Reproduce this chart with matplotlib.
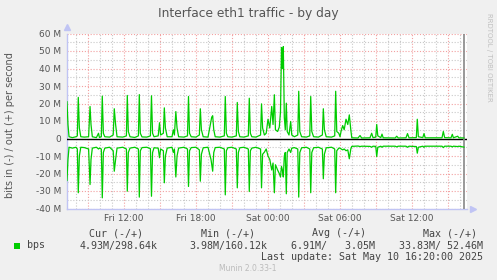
import matplotlib
matplotlib.use("Agg")
import matplotlib.pyplot as plt
from matplotlib.patches import Rectangle

# hours since Fri 00:00, and traffic in Mbit/s (in values are plotted negative)
hours = [
    7.25, 7.33, 7.42, 7.7, 8.0, 8.11, 8.19, 8.28, 8.4, 8.7,
    9.05, 9.17, 9.25, 9.36, 9.7, 9.875, 9.95, 10.11, 10.19, 10.28,
    10.4, 10.8, 11.1, 11.19, 11.3, 11.42, 11.9, 12.2, 12.275, 12.36,
    12.5, 12.9, 13.2, 13.275, 13.36, 13.5, 13.9, 14.2, 14.29, 14.38,
    14.5, 14.85, 14.96, 15.05, 15.28, 15.36, 15.45, 15.6, 16.0, 16.11,
    16.2, 16.32, 16.42, 16.55, 17.0, 17.29, 17.375, 17.46, 17.6, 18.0,
    18.28, 18.36, 18.45, 18.6, 19.0, 19.25, 19.31, 19.39, 19.48, 19.6,
    20.0, 20.36, 20.44, 20.53, 20.65, 21.0, 21.36, 21.44, 21.53, 21.65,
    22.0, 22.36, 22.44, 22.53, 22.65, 23.0, 23.38, 23.46, 23.55, 23.7,
    23.85, 24.0, 24.15, 24.31, 24.42, 24.53, 24.62, 24.8, 24.94, 25.04,
    25.125, 25.2, 25.275, 25.36, 25.44, 25.525, 25.6, 25.75, 25.89, 25.98,
    26.2, 26.48, 26.56, 26.65, 26.8, 27.2, 27.48, 27.56, 27.65, 27.8,
    28.2, 28.53, 28.61, 28.7, 28.85, 29.3, 29.56, 29.64, 29.73, 29.9,
    30.0, 30.1, 30.225, 30.35, 30.5, 30.65, 30.775, 30.9, 30.98, 31.5,
    31.67, 31.8, 32.5, 32.64, 32.75, 32.98, 33.06, 33.15, 33.4, 33.5,
    33.6, 34.6, 34.725, 34.85, 35.5, 35.625, 35.75, 36.36, 36.44, 36.53,
    36.9, 37.0, 37.1, 38.5, 38.61, 38.72, 39.25, 39.36, 39.45, 39.81,
    39.9, 40.33,
]
bps_out = [
    21, 8, 1, 0.5, 1, 1.5, 23.5, 6, 1, 0.8,
    1, 18.3, 8, 1, 0.5, 3, 0.6, 1, 24.2, 3,
    1, 0.8, 2, 17, 8, 1, 0.8, 1.5, 24.6, 4,
    1, 0.6, 1.5, 25.1, 3, 0.9, 0.8, 1.5, 24.4, 3,
    1, 1.5, 9, 2, 3, 17.5, 6, 1, 1, 5,
    2, 15.4, 6, 1, 0.8, 1.5, 24, 3, 1, 0.8,
    2, 17, 5, 1, 0.8, 10, 12.2, 13, 5, 1,
    0.8, 1.5, 24, 3, 1, 0.8, 1.5, 20.6, 4, 1,
    0.8, 1.5, 23, 3, 1, 0.8, 2, 19.8, 6, 2,
    3, 11, 6, 18.3, 8, 25, 5, 4, 6.5, 15,
    52, 40, 52.5, 12, 5, 20.2, 4, 2, 9.7, 2,
    1, 2, 27, 4, 1, 0.8, 1.5, 24, 4, 1,
    0.8, 2, 17, 5, 1, 0.8, 1.5, 27, 4, 3,
    1, 4.5, 7.4, 5, 11, 8, 13.5, 5, 0.4, 0.3,
    1.7, 0.3, 0.4, 3, 0.5, 0.8, 8, 1.5, 0.5, 2.5,
    0.4, 0.3, 1.3, 0.3, 0.4, 2.8, 0.4, 0.5, 11, 1,
    0.5, 2.8, 0.4, 0.4, 4, 0.5, 0.4, 2.4, 0.4, 1.3,
    0.4, 0.3,
]
bps_in = [
    24, 12, 5, 5.5, 5, 6, 31, 10, 5, 5.2,
    6, 26.3, 12, 5.5, 5, 6, 5.5, 6, 33.9, 8,
    5.5, 5, 7, 18.7, 12, 5.5, 5, 6, 30.1, 8,
    5.5, 5, 6, 33.5, 7, 5.2, 5, 5.8, 33, 8,
    5.3, 5.5, 11, 6, 7, 25.3, 10, 5.5, 5, 8,
    6, 22, 10, 5.5, 5, 6, 27.4, 7, 5.2, 5,
    6.5, 24.4, 9, 5.3, 5, 12, 15, 18.7, 8, 5.2,
    5, 6, 32.2, 7, 5.3, 5, 6, 28.2, 8, 5.3,
    5, 6, 30.3, 7, 5.5, 5, 6, 28.2, 9, 7.8,
    6, 10, 12, 18, 14, 31, 15, 18, 20, 22,
    16, 18, 22, 10, 8, 31.6, 8, 6, 8, 5.5,
    5.2, 6, 33.5, 8, 5.3, 5, 6, 31, 8, 5.3,
    5, 6, 23, 9, 5.3, 5, 6, 31, 7, 5.5,
    5.5, 6, 6.5, 6, 7, 6.5, 11.6, 6, 4.5, 4.3,
    4.6, 4.4, 4.5, 5, 4.4, 4.5, 10.3, 5, 4.4, 5,
    4.4, 4.4, 4.8, 4.4, 4.4, 5, 4.4, 4.6, 8.4, 5,
    4.4, 5, 4.4, 4.4, 5.2, 4.4, 4.4, 4.8, 4.4, 4.6,
    4.4, 4.93,
]

tick_hours = [12, 18, 24, 30, 36]
tick_labels = ["Fri 12:00", "Fri 18:00", "Sat 00:00", "Sat 06:00", "Sat 12:00"]
y_ticks = [-40, -30, -20, -10, 0, 10, 20, 30, 40, 50, 60]

legend_headers = ["Cur (-/+)", "Min (-/+)", "Avg (-/+)", "Max (-/+)"]
legend_values = ["4.93M/298.64k", "3.98M/160.12k", "6.91M/   3.05M", "33.83M/ 52.46M"]

W, H = 497, 280
BG = "#f0f0f0"
TXT = "#555555"
GREEN = "#00cc00"

fig = plt.figure(figsize=(W / 100, H / 100), dpi=100, facecolor=BG)
ax = fig.add_axes([67 / W, 1 - 208.5 / H, 400 / W, 175 / H])
ax.set_facecolor("white")

t0, t1 = 7.25, 7.25 + 400 / 12
ax.set_xlim(t0, t1)
ax.set_ylim(-40, 60)

# grid: gray dotted every hour / 5M, red dotted every 3h / 10M
for h in range(8, 41):
    col = "#f2a0a0" if h % 3 == 0 else "#c8c8c8"
    ax.axvline(h, color=col, lw=0.8, ls=(0, (1, 1.6)), zorder=1)
for v in range(-40, 61, 5):
    col = "#f2a0a0" if v % 10 == 0 else "#c8c8c8"
    ax.axhline(v, color=col, lw=0.8, ls=(0, (1, 1.6)), zorder=1)

ax.axhline(0, color="black", lw=1.0, zorder=3)
ax.axvline(40.36, color="#888888", lw=1.2, zorder=3)

ax.plot(hours, bps_out, color=GREEN, lw=0.9, zorder=4)
ax.plot(hours, [-v for v in bps_in], color=GREEN, lw=0.9, zorder=4)

ax.set_xticks(tick_hours)
ax.set_xticklabels(tick_labels)
ax.set_yticks(y_ticks)
ax.set_yticklabels(["0" if v == 0 else f"{v} M" for v in y_ticks])
ax.tick_params(length=0, labelsize=6.5, labelcolor=TXT, pad=4)

for s in ["top", "right"]:
    ax.spines[s].set_visible(False)
for s in ["left", "bottom"]:
    ax.spines[s].set_color("#c0c4f4")
    ax.spines[s].set_linewidth(1.0)
ax.plot([0], [1.04], marker="^", ms=4, color="#c0c4f4", transform=ax.transAxes, clip_on=False)
ax.plot([1.015], [0], marker=">", ms=4, color="#c0c4f4", transform=ax.transAxes, clip_on=False)


def px(x, y):
    return x / W, 1 - y / H


fig.text(*px(248, 14), "Interface eth1 traffic - by day", ha="center", va="center",
         fontsize=8.8, color=TXT)
fig.text(*px(10, 125), "bits in (-) / out (+) per second", ha="center", va="center",
         rotation=90, fontsize=7, color=TXT)
fig.text(*px(489, 57), "RRDTOOL / TOBI OETIKER", ha="center", va="center",
         rotation=270, fontsize=5, color="#c0c0c0")

mono = dict(family="DejaVu Sans Mono", fontsize=7.2, color="#444444", va="center")
header_x = [116, 228, 339, 450]
for x, s in zip(header_x, legend_headers):
    fig.text(*px(x, 233), s, ha="center", **mono)
value_right = [158, 267, 375, 483]
for x, s in zip(value_right, legend_values):
    fig.text(*px(x, 245.5), s, ha="right", **mono)
fig.text(*px(27, 245.5), "bps", ha="left", **mono)
fig.patches.append(Rectangle(px(14, 248.5), 6 / W, 6 / H, transform=fig.transFigure,
                             facecolor=GREEN, edgecolor="none"))
fig.text(*px(483, 257.5), "Last update: Sat May 10 16:20:00 2025", ha="right", **mono)
fig.text(*px(248, 268.5), "Munin 2.0.33-1", ha="center", va="center",
         fontsize=5.5, color="#bbbbbb")

fig.savefig("out.png", dpi=100, facecolor=BG)
